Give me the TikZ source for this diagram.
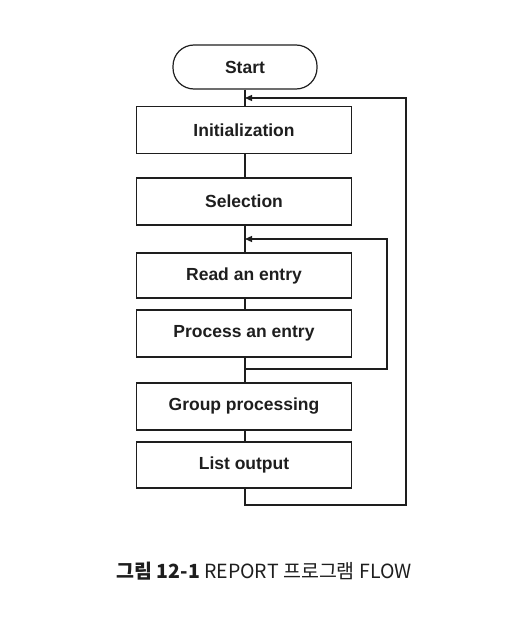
\documentclass[tikz,border=0pt]{standalone}
\usepackage{fontspec}
\setmainfont{Liberation Sans}
\newfontfamily\kr{Noto Sans CJK KR}[BoldFont={Noto Sans CJK KR Black}]
\usetikzlibrary{arrows.meta}
\definecolor{ink}{HTML}{1E1E1E}
\begin{document}
\begin{tikzpicture}[x=1pt,y=-1pt,
  box/.style={draw=ink,line width=1.2pt,minimum width=215pt,minimum height=47pt,inner sep=0pt,font=\bfseries\fontsize{17.5}{20}\selectfont,text=ink},
  term/.style={draw=ink,line width=1.2pt,minimum width=144pt,minimum height=44pt,rounded corners=21pt,inner sep=0pt,font=\bfseries\fontsize{17.5}{20}\selectfont,text=ink},
  link/.style={draw=ink,line width=1.2pt},
  back/.style={link,-{Triangle[length=7pt,width=6pt]}}]
\useasboundingbox (0,0) rectangle (507,634);
\node[term] (start) at (245,67) {Start};
\node[box] (init) at (244,130) {Initialization};
\node[box] (sel) at (244,201.5) {Selection};
\node[box,minimum height=45pt] (read) at (244,275.5) {Read an entry};
\node[box] (proc) at (244,333.5) {Process an entry};
\node[box] (grp) at (244,406.5) {Group processing};
\node[box,minimum height=46pt] (list) at (244,465) {List output};
\coordinate (s1) at (start.south);
\draw[link] (start.south) -- (init.north -| s1);
\draw[link] (init.south -| s1) -- (sel.north -| s1);
\draw[link] (sel.south -| s1) -- (read.north -| s1);
\draw[link] (read.south -| s1) -- (proc.north -| s1);
\draw[link] (proc.south -| s1) -- (grp.north -| s1);
\draw[link] (grp.south -| s1) -- (list.north -| s1);
\coordinate (ojoin) at (s1 |- 0,98);
\coordinate (ijoin) at (s1 |- 0,239);
\coordinate (obot) at (s1 |- 0,505);
\coordinate (ibot) at (s1 |- 0,369);
\coordinate (ltop) at (list.south -| s1);
\coordinate (ptop) at (proc.south -| s1);
\draw[back] (ltop) -- (obot) -| (406,98) -- (ojoin);
\draw[back] (ptop) -- (ibot) -| (387,239) -- (ijoin);
\node[font=\kr\fontsize{19.5}{23}\selectfont,text=ink,inner sep=0pt] (cap) at (264,571) {\textbf{그림 12-1} REPORT 프로그램 FLOW};
\end{tikzpicture}
\end{document}
